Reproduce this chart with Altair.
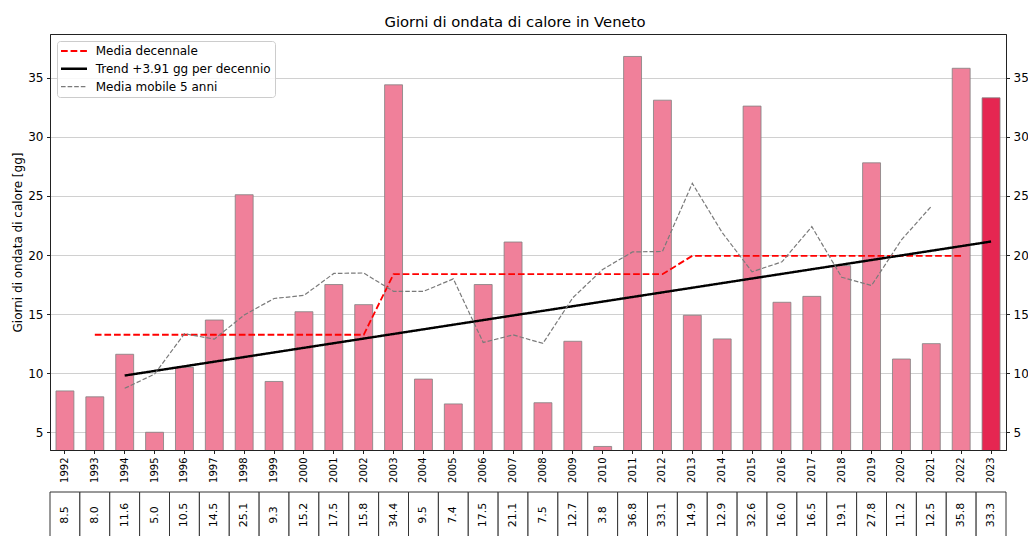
import altair as alt
import pandas as pd

FONT = "DejaVu Sans"

anni = ["1992", "1993", "1994", "1995", "1996", "1997", "1998", "1999", "2000", "2001",
        "2002", "2003", "2004", "2005", "2006", "2007", "2008", "2009", "2010", "2011",
        "2012", "2013", "2014", "2015", "2016", "2017", "2018", "2019", "2020", "2021",
        "2022", "2023"]
giorni = [8.5, 8.0, 11.6, 5.0, 10.5, 14.5, 25.1, 9.3, 15.2, 17.5, 15.8, 34.4, 9.5, 7.4,
          17.5, 21.1, 7.5, 12.7, 3.8, 36.8, 33.1, 14.9, 12.9, 32.6, 16.0, 16.5, 19.1,
          27.8, 11.2, 12.5, 35.8, 33.3]

# media decennale (1993-2022)
anni_dec = anni[1:31]
media_dec = [13.25, 13.25, 13.25, 13.25, 13.25, 13.25, 13.25, 13.25, 13.25, 13.25,
             18.38, 18.38, 18.38, 18.38, 18.38, 18.38, 18.38, 18.38, 18.38, 18.38,
             19.93, 19.93, 19.93, 19.93, 19.93, 19.93, 19.93, 19.93, 19.93, 19.93]

# trend lineare
anni_trend = ["1994", "2023"]
trend = [9.8, 21.14]

# media mobile 5 anni (1994-2021)
anni_mm = anni[2:30]
media_mobile = [8.72, 9.92, 13.34, 12.88, 14.92, 16.32, 16.58, 18.44, 18.48, 16.92,
                16.92, 17.98, 12.6, 13.24, 12.52, 16.38, 18.78, 20.26, 20.3, 26.06,
                21.9, 18.58, 19.42, 22.4, 18.12, 17.42, 21.28, 24.12]

serie = ["Media decennale", "Trend +3.91 gg per decennio", "Media mobile 5 anni"]
tick_y = [5, 10, 15, 20, 25, 30, 35]

df_bar = pd.DataFrame({"anno": anni, "giorni": giorni})
rows = []
for a, v in zip(anni_dec, media_dec):
    rows.append({"anno": a, "valore": v, "serie": serie[0]})
for a, v in zip(anni_trend, trend):
    rows.append({"anno": a, "valore": v, "serie": serie[1]})
for a, v in zip(anni_mm, media_mobile):
    rows.append({"anno": a, "valore": v, "serie": serie[2]})
df_lin = pd.DataFrame(rows)

xscale = alt.Scale(domain=anni, paddingInner=0.4, paddingOuter=0.2)
yscale = alt.Scale(domain=[3.5, 38.7], zero=False, nice=False)
xaxis = alt.Axis(title=None, labelAngle=270, labelFontSize=10, grid=False,
                 tickSize=3.5, labelPadding=3.5, orient="bottom")

bars = alt.Chart(df_bar).mark_bar(clip=True, stroke="#808080", strokeWidth=0.8).encode(
    x=alt.X("anno:N", scale=xscale, sort=anni, axis=xaxis),
    y=alt.Y("giorni:Q", scale=yscale,
            axis=alt.Axis(title="Giorni di ondata di calore [gg]", values=tick_y,
                          format="d", grid=True, orient="left", titlePadding=3)),
    fill=alt.condition(alt.datum.anno == "2023", alt.value("#E52651"), alt.value("#F0809A")),
)

leg = dict(title=None, orient="top-left", offset=7, padding=4, rowPadding=5.8,
           symbolType="M-1.333,0H4.444", symbolSize=81, labelFontSize=12,
           labelFont=FONT, labelColor="black", labelOffset=22.7, labelLimit=400,
           fillColor="rgba(255,255,255,0.85)", strokeColor="#cccccc", cornerRadius=3)

lines = alt.Chart(df_lin).mark_line(clip=True).encode(
    x=alt.X("anno:N", scale=xscale, sort=anni, axis=xaxis),
    y=alt.Y("valore:Q", scale=yscale,
            axis=alt.Axis(title=None, values=tick_y, format="d", grid=False, orient="right")),
    color=alt.Color("serie:N", scale=alt.Scale(domain=serie, range=["#ff0000", "#000000", "#7a7a7a"]),
                    legend=alt.Legend(**leg)),
    strokeDash=alt.StrokeDash("serie:N", scale=alt.Scale(domain=serie, range=[[6.7, 2.9], [1, 0], [4.6, 2.0]]),
                              legend=alt.Legend(**leg)),
    strokeWidth=alt.StrokeWidth("serie:N", scale=alt.Scale(type="ordinal", domain=serie, range=[1.8, 2.4, 1.2]),
                                legend=alt.Legend(**leg)),
)

main = alt.layer(bars, lines).resolve_axis(y="independent")

tab_x = alt.X("anno:N", scale=alt.Scale(domain=anni, paddingInner=0, paddingOuter=0),
              sort=anni, axis=None)
cells = alt.Chart(df_bar).mark_rect(fill="white", stroke="#333333", strokeWidth=1).encode(
    x=tab_x, y=alt.value(458), y2=alt.value(560))
texts = alt.Chart(df_bar).mark_text(angle=270, fontSize=11, font=FONT, color="black",
                                    baseline="middle", align="center").encode(
    x=tab_x, y=alt.value(481), text=alt.Text("giorni:Q", format=".1f"))

chart = alt.layer(main, cells, texts).resolve_scale(x="independent").properties(
    width=956, height=416,
    title=alt.Title("Giorni di ondata di calore in Veneto", fontSize=14.8, font=FONT,
                    fontWeight="normal", color="black", dx=-13, offset=4, frame="group"),
    autosize=alt.AutoSizeParams(type="none"),
    padding={"left": 42, "top": 26, "right": 22, "bottom": 86},
).configure_view(stroke="#222222", strokeWidth=1).configure_axis(
    labelFont=FONT, titleFont=FONT, labelColor="black", titleColor="black",
    tickColor="#222222", domainColor="#222222", gridColor="#d0d0d0", gridWidth=1,
    tickSize=3.5, labelPadding=3.5, labelFontSize=12, titleFontSize=12,
    titleFontWeight="normal",
)

chart.save("out.html", embed_options={"renderer": "svg", "actions": False})
